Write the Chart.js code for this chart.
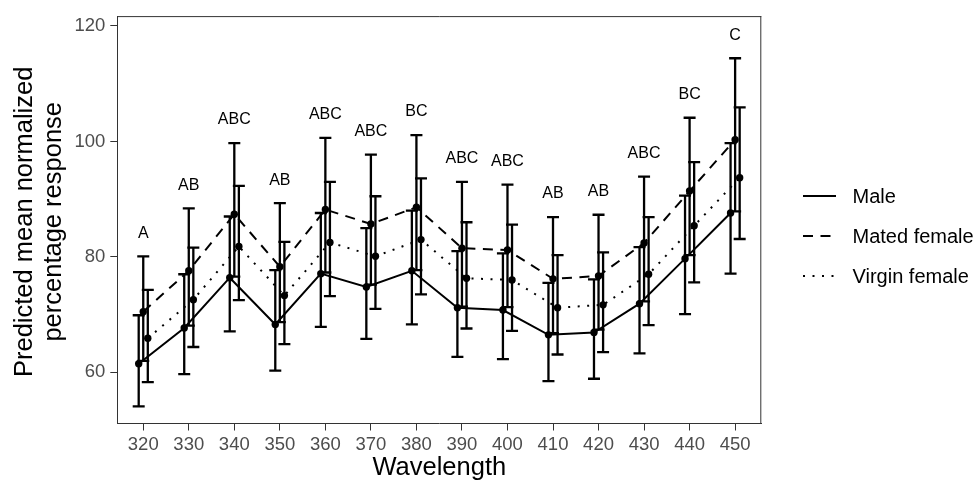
<!DOCTYPE html>
<html>
<head>
<meta charset="utf-8">
<script src="https://cdn.jsdelivr.net/npm/chart.js@4.4.1/dist/chart.umd.min.js"></script>
<style>
  html, body { margin: 0; padding: 0; background: #ffffff; }
  #wrap { width: 978px; height: 483px; }
</style>
</head>
<body>
<div id="wrap"><canvas id="c" width="978" height="483"></canvas></div>
<script>
// ---- data ----
const wavelengths = [320, 330, 340, 350, 360, 370, 380, 390, 400, 410, 420, 430, 440, 450];
const letters = ['A', 'AB', 'ABC', 'AB', 'ABC', 'ABC', 'BC', 'ABC', 'ABC', 'AB', 'AB', 'ABC', 'BC', 'C'];

const maleMean  = [61.5, 67.7, 76.4, 68.3, 77.1, 74.8, 77.6, 71.2, 70.8, 66.5, 66.9, 71.9, 79.7, 87.6];
const maleLower = [54.1, 59.7, 67.1, 60.3, 67.9, 65.8, 68.3, 62.7, 62.3, 58.5, 58.9, 63.3, 70.1, 77.1];
const maleUpper = [69.9, 77.0, 87.0, 77.7, 87.6, 85.0, 88.0, 81.0, 80.6, 75.5, 76.1, 81.7, 90.6, 99.7];

const matedMean  = [70.5, 77.6, 87.4, 78.3, 88.2, 85.7, 88.6, 81.5, 81.2, 76.2, 76.7, 82.4, 91.4, 100.3];
const matedLower = [62.0, 68.1, 76.6, 68.7, 77.3, 75.2, 77.7, 71.4, 71.3, 66.8, 67.4, 72.3, 80.3, 87.9];
const matedUpper = [80.1, 88.4, 99.7, 89.3, 100.6, 97.7, 101.1, 93.0, 92.5, 86.9, 87.3, 93.9, 104.1, 114.4];

const virginMean  = [65.9, 72.6, 81.8, 73.3, 82.5, 80.1, 83.0, 76.3, 76.0, 71.2, 71.7, 77.0, 85.4, 93.7];
const virginLower = [58.3, 64.4, 72.5, 64.9, 73.2, 71.0, 73.5, 67.6, 67.2, 63.1, 63.5, 68.2, 75.6, 83.1];
const virginUpper = [74.3, 81.6, 92.3, 82.6, 93.0, 90.5, 93.6, 86.0, 85.6, 80.3, 80.8, 86.9, 96.4, 105.9];

const seriesNames = ['Male', 'Mated female', 'Virgin female'];
const yTicks = [60, 80, 100, 120];
const xTitle = 'Wavelength';
const yTitle = ['Predicted mean normalized', 'percentage response'];

// ---- styles ----
const FONT = '"Liberation Sans", Arial, Helvetica, sans-serif';
const dashes = [[], [10, 7.5], [2, 7.5]];
const dodge = [-1, 0, 1];
const means = [maleMean, matedMean, virginMean];
const lowers = [maleLower, matedLower, virginLower];
const uppers = [maleUpper, matedUpper, virginUpper];

const datasets = seriesNames.map((name, s) => ({
  label: name,
  data: wavelengths.map((w, i) => ({ x: w + dodge[s], y: means[s][i] })),
  borderColor: '#000000',
  backgroundColor: '#000000',
  borderWidth: 2,
  borderDash: dashes[s],
  pointRadius: 3.7,
  pointBorderWidth: 0,
  pointBackgroundColor: '#000000',
  pointHoverRadius: 3.7,
  tension: 0,
  fill: false
}));

const extras = {
  id: 'extras',
  beforeDatasetsDraw(chart) {
    const ctx = chart.ctx;
    const xs = chart.scales.x, ys = chart.scales.y;
    ctx.save();
    ctx.strokeStyle = '#000000';
    ctx.lineWidth = 2.3;
    ctx.setLineDash([]);
    const cap = 6;
    for (let s = 0; s < 3; s++) {
      for (let i = 0; i < wavelengths.length; i++) {
        const px = xs.getPixelForValue(wavelengths[i] + dodge[s]);
        const lo = ys.getPixelForValue(lowers[s][i]);
        const hi = ys.getPixelForValue(uppers[s][i]);
        ctx.beginPath();
        ctx.moveTo(px, lo); ctx.lineTo(px, hi);
        ctx.moveTo(px - cap, lo); ctx.lineTo(px + cap, lo);
        ctx.moveTo(px - cap, hi); ctx.lineTo(px + cap, hi);
        ctx.stroke();
      }
    }
    ctx.restore();
  },
  afterDraw(chart) {
    const ctx = chart.ctx;
    const a = chart.chartArea;
    const xs = chart.scales.x, ys = chart.scales.y;
    ctx.save();
    // panel border top/right
    ctx.strokeStyle = '#333333';
    ctx.lineWidth = 1;
    ctx.beginPath();
    ctx.moveTo(a.left, a.top + 0.5); ctx.lineTo(a.right, a.top + 0.5);
    ctx.moveTo(a.right - 0.5, a.top); ctx.lineTo(a.right - 0.5, a.bottom);
    ctx.stroke();

    // letters above groups
    ctx.fillStyle = '#000000';
    ctx.font = '16px ' + FONT;
    ctx.textAlign = 'center';
    ctx.textBaseline = 'middle';
    for (let i = 0; i < wavelengths.length; i++) {
      const top = Math.max(maleUpper[i], matedUpper[i], virginUpper[i]);
      ctx.fillText(letters[i], xs.getPixelForValue(wavelengths[i]), ys.getPixelForValue(top + 4));
    }

    // axis titles
    ctx.font = '25.5px ' + FONT;
    ctx.fillStyle = '#000000';
    ctx.textAlign = 'center';
    ctx.textBaseline = 'middle';
    ctx.fillText(xTitle, (a.left + a.right) / 2, 468);
    ctx.save();
    ctx.translate(25, (a.top + a.bottom) / 2 + 2);
    ctx.rotate(-Math.PI / 2);
    ctx.fillText(yTitle[0], 0, 0);
    ctx.restore();
    ctx.save();
    ctx.translate(53.5, (a.top + a.bottom) / 2 + 2);
    ctx.rotate(-Math.PI / 2);
    ctx.fillText(yTitle[1], 0, 0);
    ctx.restore();

    // legend
    const rowY = [196, 236, 276];
    ctx.font = '20px ' + FONT;
    ctx.textAlign = 'left';
    ctx.textBaseline = 'middle';
    for (let s = 0; s < 3; s++) {
      ctx.strokeStyle = '#000000';
      ctx.lineWidth = 2;
      ctx.setLineDash(dashes[s]);
      ctx.beginPath();
      ctx.moveTo(803, rowY[s]); ctx.lineTo(836, rowY[s]);
      ctx.stroke();
      ctx.setLineDash([]);
      ctx.fillText(seriesNames[s], 852.5, rowY[s] + 1);
    }
    ctx.restore();
  }
};

new Chart(document.getElementById('c'), {
  type: 'line',
  data: { datasets },
  options: {
    responsive: false,
    animation: false,
    events: [],
    layout: { padding: { left: 0, right: 216.7, top: 10.7, bottom: 0 } },
    plugins: { legend: { display: false }, tooltip: { enabled: false } },
    scales: {
      x: {
        type: 'linear',
        min: 314.3,
        max: 455.75,
        afterBuildTicks: (sc) => { sc.ticks = wavelengths.map(v => ({ value: v })); },
        afterFit: (sc) => { sc.height = 59.5; },
        grid: { display: true, drawOnChartArea: false, drawTicks: true, tickLength: 7, color: '#333333', lineWidth: 1 },
        border: { display: true, color: '#333333', width: 1 },
        ticks: { color: '#4D4D4D', font: { family: FONT, size: 18.5 }, padding: 3, maxRotation: 0, autoSkip: false,
                 callback: (v) => String(v) }
      },
      y: {
        type: 'linear',
        min: 51.15,
        max: 121.7,
        afterBuildTicks: (sc) => { sc.ticks = yTicks.map(v => ({ value: v })); },
        afterFit: (sc) => { sc.width = 117.3; },
        grid: { display: true, drawOnChartArea: false, drawTicks: true, tickLength: 7, color: '#333333', lineWidth: 1 },
        border: { display: true, color: '#333333', width: 1 },
        ticks: { color: '#4D4D4D', font: { family: FONT, size: 18.5 }, padding: 5,
                 callback: (v) => String(v) }
      }
    }
  },
  plugins: [extras]
});
</script>
</body>
</html>
